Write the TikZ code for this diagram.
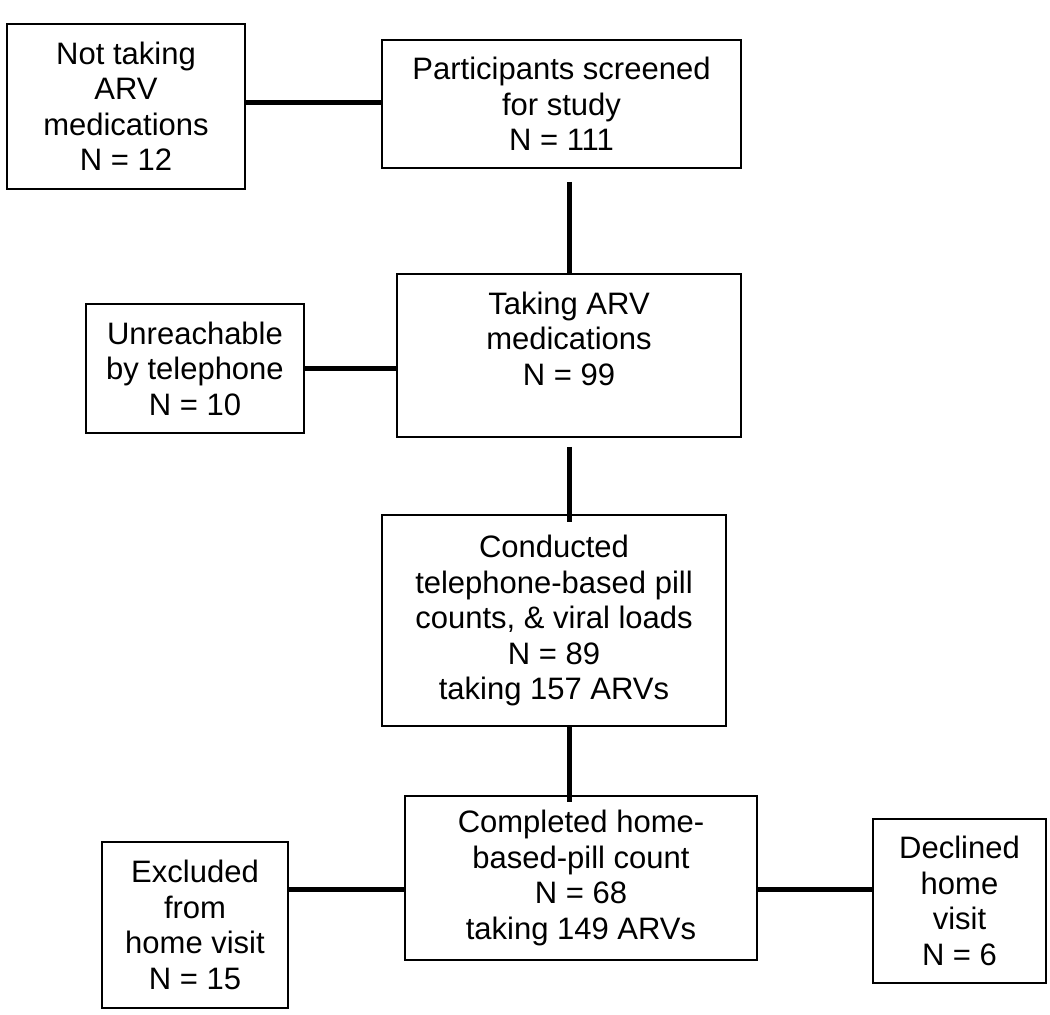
\documentclass[tikz,border=0pt]{standalone}
\usepackage{fontspec}
\setmainfont{Liberation Sans}
\begin{document}
\begin{tikzpicture}[x=1pt,y=-1pt,
  box/.style={draw, line width=1.8pt, inner sep=0pt, align=center,
    font=\fontsize{31}{35.5}\selectfont},
  conn/.style={line width=5pt}]
\useasboundingbox (0,0) rectangle (1050,1015);
\node[box, minimum width=238pt, minimum height=165pt] (B1) at (126,106.5)
  {Not taking\\ARV\\medications\\N = 12};
\node[box, minimum width=359pt, minimum height=128pt] (B2) at (561.5,104)
  {Participants screened\\for study\\N = 111};
\node[box, minimum width=218pt, minimum height=129pt] (B3) at (195,368.5)
  {Unreachable\\by telephone\\N = 10};
\node[box, minimum width=344pt, minimum height=163pt, text depth=34pt] (B4) at (569,355.5)
  {Taking ARV\\medications\\N = 99};
\node[box, minimum width=344pt, minimum height=211pt] (B5) at (554,620.5)
  {Conducted\\telephone-based pill\\counts, \& viral loads\\N = 89\\taking 157 ARVs};
\node[box, minimum width=352pt, minimum height=164pt] (B6) at (581,878)
  {Completed home-\\based-pill count\\N = 68\\taking 149 ARVs};
\node[box, minimum width=186pt, minimum height=166pt] (B7) at (195,925)
  {Excluded\\from\\home visit\\N = 15};
\node[box, minimum width=173pt, minimum height=164pt] (B8) at (959.5,901)
  {Declined\\home\\visit\\N = 6};
% connectors
\draw[conn] ([yshift=4.5pt]B1.east) -- ([yshift=4.5pt]B1.east -| B2.west);
\draw[conn, shorten <=13pt] (B4.north |- B2.south) -- (B4.north);
\draw[conn] (B3.east) -- (B3.east -| B4.west);
\draw[conn, shorten <=9pt, shorten >=-8pt] (B4.south) -- (B4.south |- B5.north);
\draw[conn, shorten >=-7pt] (B4.south |- B5.south) -- (B4.south |- B6.north);
\draw[conn] ([yshift=-11pt]B6.west -| B7.east) -- ([yshift=-11pt]B6.west);
\draw[conn] ([yshift=-11pt]B6.east) -- ([yshift=-11pt]B6.east -| B8.west);
\end{tikzpicture}
\end{document}
